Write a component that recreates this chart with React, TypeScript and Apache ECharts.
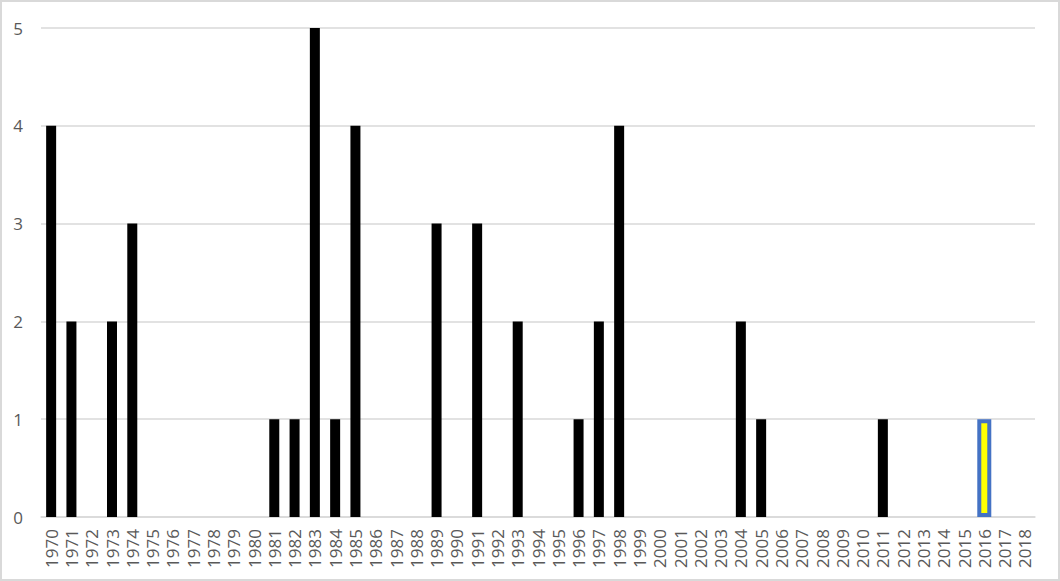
import React, { useEffect, useRef } from "react";
import * as echarts from "echarts";

const years: string[] = [];
for (let y = 1970; y <= 2018; y++) years.push(String(y));

const counts: number[] = [
  4, 2, 0, 2, 3, 0, 0, 0, 0, 0,
  0, 1, 1, 5, 1, 4, 0, 0, 0, 3,
  0, 3, 0, 2, 0, 0, 1, 2, 4, 0,
  0, 0, 0, 0, 2, 1, 0, 0, 0, 0,
  0, 1, 0, 0, 0, 0, 1, 0, 0,
];

const highlightYear = "2016";
const yTicks = [0, 1, 2, 3, 4, 5];

export default function App() {
  const ref = useRef<HTMLDivElement>(null);
  useEffect(() => {
    if (!ref.current) return;
    const chart = echarts.init(ref.current, null, { renderer: "svg" });
    const font = "'Open Sans', 'Liberation Sans', sans-serif";
    const normal = counts.map((v, i) => (years[i] === highlightYear ? "-" : v));
    const highlight = counts.map((v, i) => (years[i] === highlightYear ? v : "-"));
    chart.setOption({
      animation: false,
      backgroundColor: "#ffffff",
      grid: { left: 41, right: 25, top: 28, bottom: 64, containLabel: false },
      graphic: [
        {
          type: "rect",
          shape: { x: 1, y: 1, width: 1058, height: 579 },
          style: { fill: "none", stroke: "#d9d9d9", lineWidth: 2 },
          silent: true,
        },
      ],
      xAxis: [
        {
          type: "category",
          data: years,
          axisTick: { show: false },
          axisLine: { lineStyle: { color: "#d9d9d9", width: 1.5 } },
          axisLabel: {
            interval: 0,
            rotate: 90,
            margin: 12,
            fontSize: 17,
            fontFamily: font,
            color: "#595959",
          },
        },
        {
          type: "category",
          data: years,
          position: "bottom",
          show: false,
        },
      ],
      yAxis: {
        type: "value",
        min: yTicks[0],
        max: yTicks[yTicks.length - 1],
        interval: 1,
        axisLine: { show: false },
        axisTick: { show: false },
        splitLine: { lineStyle: { color: "#d9d9d9", width: 1.5 } },
        axisLabel: {
          margin: 18,
          fontSize: 17,
          fontFamily: font,
          color: "#595959",
        },
      },
      series: [
        {
          type: "bar",
          xAxisIndex: 0,
          barWidth: 10,
          itemStyle: { color: "#000000" },
          data: normal,
        },
        {
          type: "bar",
          xAxisIndex: 1,
          barWidth: 14,
          itemStyle: { color: "#ffff00", borderColor: "#4472c4", borderWidth: 4 },
          data: highlight,
        },
      ],
    });
    return () => chart.dispose();
  }, []);
  return (
    <div
      ref={ref}
      style={{ position: "fixed", left: 0, top: 0, width: 1060, height: 581 }}
    />
  );
}
